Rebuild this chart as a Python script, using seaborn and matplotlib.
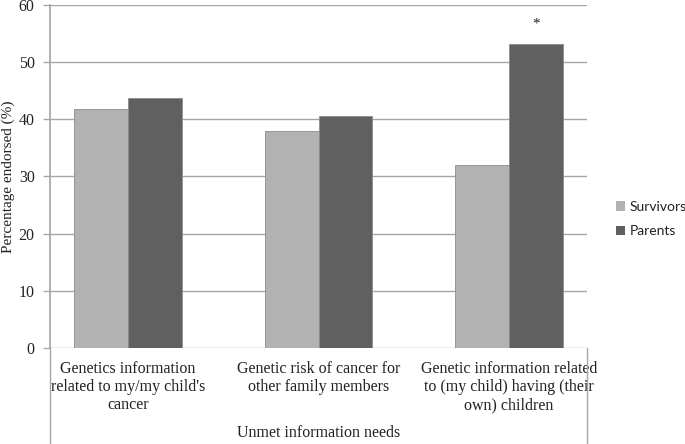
import pandas as pd
import seaborn as sns
import matplotlib.pyplot as plt
import matplotlib.transforms as mtransforms
from matplotlib.patches import Patch


categories = [
    "Genetics information\nrelated to my/my child's\ncancer",
    "Genetic risk of cancer for\nother family members",
    "Genetic information related\nto (my child) having (their\nown) children",
]
groups = ["Survivors", "Parents"]
survivors = [41.8, 37.9, 32.0]
parents = [43.7, 40.6, 53.2]
significant = ["", "", "*"]   # marks over the Parents bars
y_ticks = [0, 10, 20, 30, 40, 50, 60]

df = pd.DataFrame({
    "need": categories * 2,
    "group": [groups[0]] * 3 + [groups[1]] * 3,
    "pct": survivors + parents,
})

colors = {"Survivors": "#b2b2b2", "Parents": "#606060"}
grid_col = "#a6a6a6"

sns.set_theme(style="white")
plt.rcParams["font.family"] = ["Liberation Serif", "DejaVu Serif"]

fig = plt.figure(figsize=(6.85, 4.44), dpi=100)
ax = fig.add_axes([50 / 685, 1 - 348 / 444, 537 / 685, 343 / 444])

sns.barplot(
    data=df, x="need", y="pct", hue="group",
    hue_order=groups, order=categories,
    palette=colors, width=0.565, saturation=1,
    edgecolor="#8c8c8c", linewidth=0.6,
    ax=ax,
)
ax.get_legend().remove()

ax.set_ylim(0, 60)
ax.set_yticks(y_ticks)
ax.yaxis.grid(True, color=grid_col, linewidth=1)
ax.set_axisbelow(True)
for s in ["top", "right", "bottom"]:
    ax.spines[s].set_visible(False)
ax.spines["left"].set_color(grid_col)
ax.tick_params(axis="y", length=5, width=1, color=grid_col, pad=6,
               labelsize=11.5, labelcolor="#222222", left=True)
ax.tick_params(axis="x", length=0, pad=9, labelsize=11.5, labelcolor="#222222")

# asterisk above the significant bar
for bar, mark in zip(ax.containers[1], significant):
    if mark:
        ax.text(bar.get_x() + bar.get_width() / 2, bar.get_height() + 3.4, mark,
                ha="center", va="center", fontsize=11, color="#222222")

# Excel-style frame lines running down to the figure edge
tr = mtransforms.blended_transform_factory(ax.transAxes, fig.transFigure)
ax.plot([0, 0], [1 - 348 / 444, 0], transform=tr, color=grid_col, lw=1, clip_on=False)
ax.plot([1, 1], [1 - 348 / 444, 0], transform=tr, color=grid_col, lw=1, clip_on=False)

ax.set_xlabel("Unmet information needs", fontsize=11.5, color="#222222")
ax.xaxis.set_label_coords(0.5, -0.224)
ax.set_ylabel("Percentage endorsed (%)", fontsize=11, color="#222222")
ax.yaxis.set_label_coords(-0.066, 0.5)

handles = [Patch(facecolor=colors[g], edgecolor="none") for g in groups]
fig.legend(handles, groups, loc="center left", bbox_to_anchor=(603 / 685, 1 - 219 / 444),
           frameon=False, handlelength=0.7, handleheight=0.7, handletextpad=0.3,
           labelspacing=0.9, prop={"family": "Lato", "size": 10},
           labelcolor="#222222")

fig.savefig("out.png", dpi=100)
